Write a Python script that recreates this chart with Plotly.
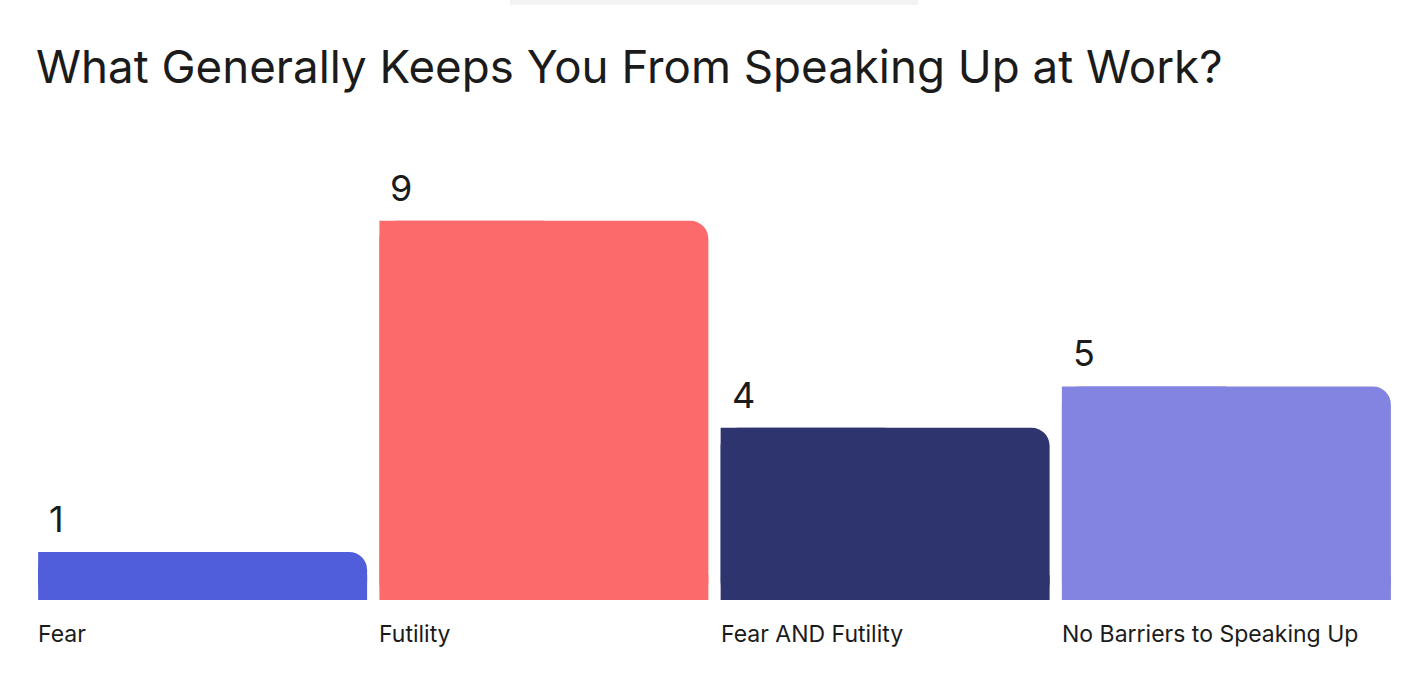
import plotly.graph_objects as go

categories = ["Fear", "Futility", "Fear AND Futility", "No Barriers to Speaking Up"]
values = [1, 9, 4, 5]
colors = ["#505EDC", "#FC6A6B", "#2E346E", "#8383E2"]
title_text = "What Generally Keeps You From Speaking Up at Work?"

FONT = "Inter, Lato, sans-serif"
TXT = "#1b1b1b"
W = 0.964
Y_FLOOR = -0.16
PX_PER_UNIT = 41.4
idx = list(range(len(categories)))
heights = [v - Y_FLOOR for v in values]

fig = go.Figure()
# main bars with rounded top corners
fig.add_trace(go.Bar(
    x=idx, y=heights, base=Y_FLOOR, width=W,
    marker=dict(color=colors, cornerradius=18, line=dict(width=0)),
    hoverinfo="skip", showlegend=False,
))
# square off top-left corners (left half, full height)
fig.add_trace(go.Bar(
    x=idx, y=heights, base=Y_FLOOR, width=W / 2, offset=-W / 2,
    marker=dict(color=colors, line=dict(width=0)),
    hoverinfo="skip", showlegend=False,
))
# square off bottom-right corners (right half, lower part)
fig.add_trace(go.Bar(
    x=idx, y=[min(h, 0.6) for h in heights], base=Y_FLOOR, width=W / 2, offset=0,
    marker=dict(color=colors, line=dict(width=0)),
    hoverinfo="skip", showlegend=False,
))

ann = []
for i, (c, v) in enumerate(zip(categories, values)):
    ann.append(dict(x=i - W / 2, y=v, xref="x", yref="y", text=str(v),
                    showarrow=False, xanchor="left", yanchor="bottom",
                    xshift=9, yshift=9,
                    font=dict(family=FONT, size=36, color=TXT)))
    ann.append(dict(x=i - W / 2, y=0, xref="x", yref="paper", text=c,
                    showarrow=False, xanchor="left", yanchor="top",
                    xshift=-2, yshift=-18,
                    font=dict(family=FONT, size=23, color=TXT)))

fig.update_layout(
    width=1418, height=684,
    margin=dict(l=32, r=21, t=150, b=84),
    paper_bgcolor="white", plot_bgcolor="white",
    barmode="overlay",
    title=dict(text=title_text, xref="container", yref="container",
               x=36 / 1418, xanchor="left", y=1 - 67 / 684, yanchor="middle",
               font=dict(family=FONT, size=45.7, color=TXT)),
    xaxis=dict(range=[-0.5, 3.5], visible=False, fixedrange=True),
    yaxis=dict(range=[Y_FLOOR, Y_FLOOR + 450 / PX_PER_UNIT], visible=False, fixedrange=True),
    annotations=ann,
    shapes=[dict(type="rect", xref="paper", yref="paper",
                 x0=(510 - 32) / 1365, x1=(918 - 32) / 1365,
                 y0=(600 - 5) / 450, y1=(600 + 12) / 450,
                 fillcolor="#F3F3F3", line=dict(width=0), layer="below")],
)

fig.write_html("out.html", config={"displayModeBar": False},
               post_script="document.body.style.margin='0';")
